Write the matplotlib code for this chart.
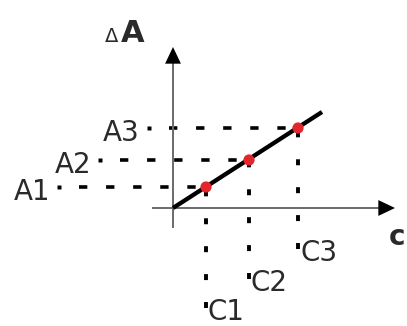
import matplotlib.pyplot as plt

plt.rcParams['lines.scale_dashes'] = False

# calibration points (origin at the axes crossing)
conc = [33, 76, 125]
absorb = [21, 48, 80]
conc_labels = ['C1', 'C2', 'C3']
absorb_labels = ['A1', 'A2', 'A3']
line_c = [0, 149]
line_a = [0, 96]

# where the dashed guide lines end (left for A, bottom for C)
a_line_start = [-114, -73, -24]
c_line_end = [-97, -68, -38]

fig = plt.figure(figsize=(4.07, 3.26), dpi=100)
ax = fig.add_axes([0, 0, 1, 1])
ax.set_xlim(-173, 234)
ax.set_ylim(-118, 208)
ax.axis('off')

axis_col = '#6a6a6a'
txt_col = '#2a2a2a'
# axes
ax.plot([-20, 212], [0, 0], color=axis_col, lw=1.4, zorder=2)
ax.plot([0, 0], [-19, 150], color=axis_col, lw=1.4, zorder=2)
head = dict(arrowstyle='-|>,head_length=0.8,head_width=0.38', color='black',
            lw=0, mutation_scale=15, shrinkA=0, shrinkB=0)
ax.annotate('', xy=(222, 0), xytext=(200, 0), arrowprops=head)
ax.annotate('', xy=(0, 161), xytext=(0, 139), arrowprops=head)

# guide lines
for c, a, x0, y1, al, cl in zip(conc, absorb, a_line_start, c_line_end,
                                absorb_labels, conc_labels):
    ax.plot([x0 + 20, c], [a, a], color='black', lw=2.6,
            linestyle=(0, (6, 13.5)), dash_capstyle='butt', zorder=1)
    ax.plot([x0], [a], marker='s', ms=2.8, color='black', mec='none')
    ax.text(x0 - 9, a - 13, al, fontsize=20, ha='right', va='baseline',
            color=txt_col)
    ax.plot([c, c], [y1 - 3, a], color='black', lw=2.8,
            linestyle=(0, (4.3, 15.8)), dash_capstyle='butt', zorder=1)
    ax.text(c + 2, y1 - 15, cl, fontsize=20, ha='left', va='baseline',
            color=txt_col)

# calibration line and points
ax.plot(line_c, line_a, color='black', lw=3.1, solid_capstyle='butt', zorder=3)
ax.scatter(conc, absorb, s=65, color='#e3262b', edgecolors='none', zorder=4)

# axis titles
ax.text(-55, 166, 'Δ', fontsize=14, ha='right', va='baseline',
        color=txt_col)
ax.text(-52, 166, 'A', fontsize=22, fontweight='bold', ha='left',
        va='baseline', color=txt_col)
ax.text(216, -37, 'c', fontsize=20, fontweight='bold', ha='left',
        va='baseline', color=txt_col)

fig.savefig('out.png', dpi=100)
